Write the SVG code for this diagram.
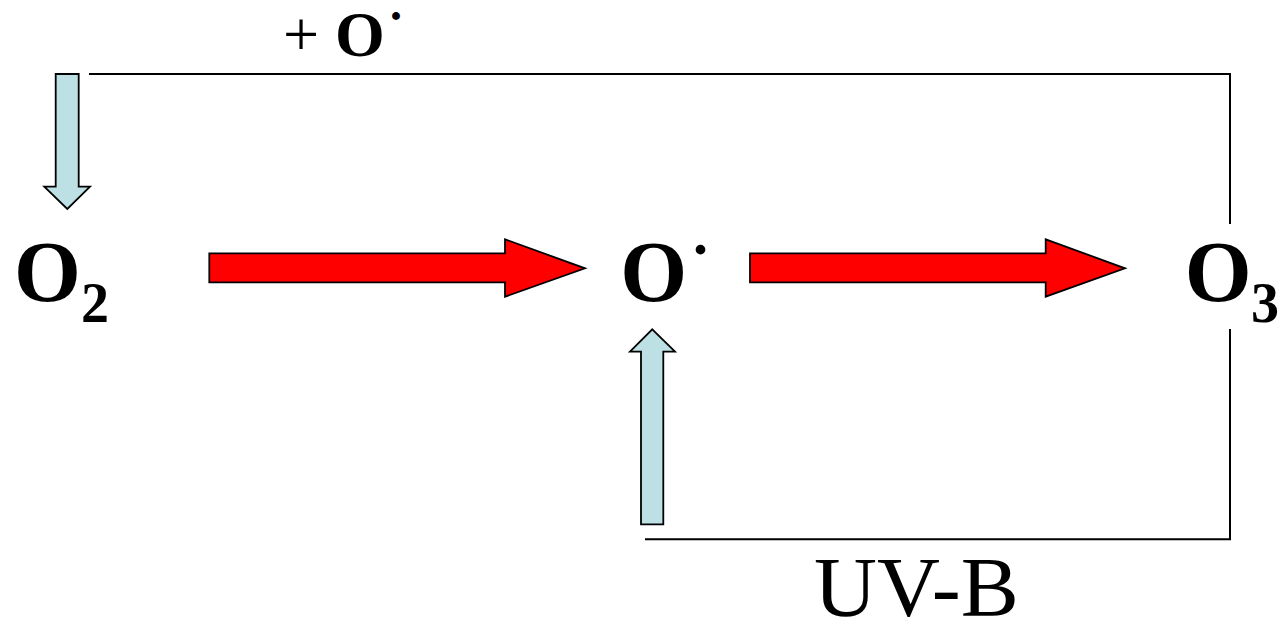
<svg xmlns="http://www.w3.org/2000/svg" width="1279" height="622" viewBox="0 0 1279 622">
<style>
.b{font-family:"Liberation Serif","Times New Roman",serif;font-weight:bold;fill:#000}
.r{font-family:"Liberation Serif","Times New Roman",serif;font-weight:normal;fill:#000}
.red{fill:#FF0000;stroke:#000;stroke-width:1.8;stroke-linejoin:miter}
.blue{fill:#BCE0E3;stroke:#000;stroke-width:1.8;stroke-linejoin:miter}
.con{fill:none;stroke:#000;stroke-width:2}
</style>
<rect width="1279" height="622" fill="#fff"/>
<g id="connectors">
<path class="con" d="M89,74 H1230 V224"/>
<path class="con" d="M1230,329 V539.3 H645"/>
<polygon class="blue" points="55.7,74 78.7,74 78.7,186.7 90,186.7 67.3,209 44.3,186.7 55.7,186.7"/>
<polygon class="blue" points="652.3,329.3 675,351.7 663.3,351.7 663.3,524.3 641,524.3 641,351.7 630,351.7"/>
<polygon class="red" points="209.3,253.3 505,253.3 505,239.3 585,268.3 505,296.7 505,282.3 209.3,282.3"/>
<polygon class="red" points="750,253.3 1045.7,253.3 1045.7,239.3 1125,268.3 1045.7,296.7 1045.7,282.3 750,282.3"/>
<g id="label-top">
<text class="r" x="283" y="56" font-size="64">+</text>
<text class="b" x="335" y="56" font-size="64">O</text>
<text class="b" x="390" y="20" font-size="48">.</text>
</g>
<g id="label-uvb">
<text class="r" x="814" y="616" font-size="84" textLength="205" lengthAdjust="spacingAndGlyphs">UV-B</text>
</g>
</g>
<g id="node-o2">
<text class="b" x="14" y="301" font-size="86">O</text>
<text class="b" x="81" y="322" font-size="56">2</text>
</g>
<g id="node-o">
<text class="b" x="620.3" y="301" font-size="86">O</text>
<text class="b" x="693" y="254" font-size="60">.</text>
</g>
<g id="node-o3">
<text class="b" x="1184.7" y="301" font-size="86">O</text>
<text class="b" x="1251" y="322" font-size="56">3</text>
</g>
</svg>
